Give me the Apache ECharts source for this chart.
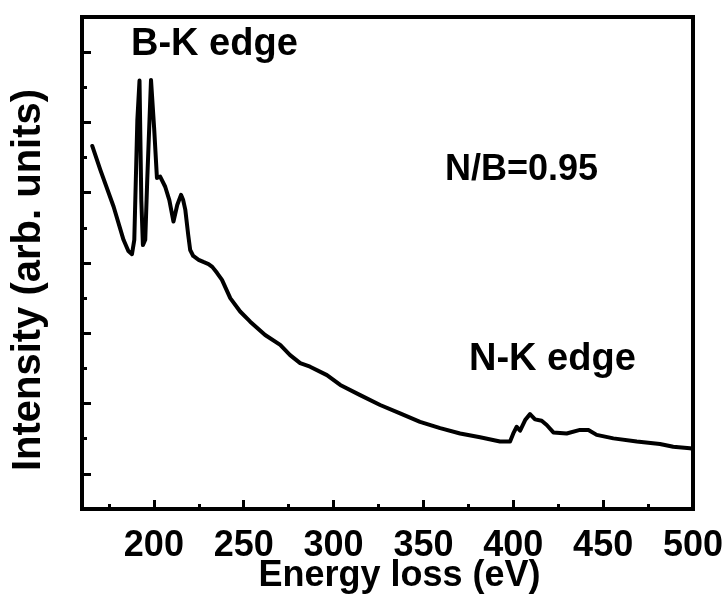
<!DOCTYPE html>
<html>
<head>
<meta charset="utf-8">
<script src="https://cdn.jsdelivr.net/npm/echarts@6/dist/echarts.min.js"></script>
<style>
html,body{margin:0;padding:0;background:#fff;}
#chart{width:727px;height:595px;}
</style>
</head>
<body>
<div id="chart"></div>
<script>
// Energy loss (eV)
var energy = [165.7,170.2,177.6,183.1,185.8,187.8,189.1,190.8,192.0,193.0,193.9,195.2,196.3,198.4,200.2,201.7,203.5,206.3,208.6,210.9,213.0,215.1,216.3,217.5,219.1,220.2,221.9,224.9,227.5,230.4,232.5,235.1,237.9,242.5,248.0,253.6,261.9,270.3,275.8,281.4,286.9,296.3,303.7,314.8,325.9,337.0,348.1,359.3,370.4,381.5,392.6,398.2,400.0,401.9,403.8,406.6,409.3,412.1,415.8,418.6,422.3,429.7,437.1,441.8,446.4,455.7,468.7,481.6,489.0,498.3,500.0];
// Intensity (arb. units)
var intensity = [10.33,9.65,8.60,7.66,7.34,7.25,7.66,11.07,12.19,8.79,7.51,7.66,9.36,12.21,10.79,9.42,9.46,9.17,8.79,8.18,8.65,8.94,8.79,8.51,7.80,7.37,7.20,7.09,7.03,6.97,6.89,6.72,6.52,6.00,5.62,5.33,4.95,4.67,4.38,4.15,4.05,3.81,3.53,3.24,2.96,2.72,2.48,2.30,2.15,2.04,1.92,1.92,2.15,2.34,2.23,2.53,2.70,2.55,2.51,2.39,2.18,2.15,2.25,2.25,2.11,2.01,1.92,1.85,1.77,1.73,1.71];
// tick values
var xMajor = [200,250,300,350,400,450,500];
var xMinor = [175,225,275,325,375,425,475];
var yMajor = [1,3,5,7,9,11,13];
var yMinor = [2,4,6,8,10,12];
var annotations = ['B-K edge','N/B=0.95','N-K edge'];
var yTitle = 'Intensity (arb. units)';

var FONT = '"Liberation Sans", Arial, Helvetica, sans-serif';
var data = energy.map(function(e,i){return [e,intensity[i]];});

var chart = echarts.init(document.getElementById('chart'), null, {renderer:'canvas'});
var tickStyle = {color:'#000', width:3};
chart.setOption({
  animation:false,
  backgroundColor:'#fff',
  grid:{left:82,right:34,top:17,bottom:86,containLabel:false,outerBoundsMode:'none',show:true,borderColor:'#000',borderWidth:4,backgroundColor:'transparent'},
  xAxis:[{
    type:'value',min:160,max:500,position:'bottom',
    axisLine:{show:true,lineStyle:{color:'#000',width:4}},
    axisTick:{show:true,inside:true,length:9,lineStyle:tickStyle,customValues:xMajor},
    axisLabel:{show:true,customValues:xMajor,color:'#000',fontSize:36,fontWeight:'bold',fontFamily:FONT,margin:19},
    splitLine:{show:false},
    name:'Energy loss (eV)',nameLocation:'middle',nameGap:49,nameMoveOverlap:false,
    nameTextStyle:{color:'#000',fontSize:36,fontWeight:'bold',fontFamily:FONT,padding:[0,0,0,24]}
  },{
    type:'value',min:160,max:500,position:'bottom',
    axisLine:{show:false},
    axisTick:{show:true,inside:true,length:5,lineStyle:tickStyle,customValues:xMinor},
    axisLabel:{show:false},
    splitLine:{show:false}
  }],
  yAxis:[{
    type:'value',min:0,max:14,position:'left',
    axisLine:{show:true,lineStyle:{color:'#000',width:4}},
    axisTick:{show:true,inside:true,length:9,lineStyle:tickStyle,customValues:yMajor},
    axisLabel:{show:false},
    splitLine:{show:false}
  },{
    type:'value',min:0,max:14,position:'left',
    axisLine:{show:false},
    axisTick:{show:true,inside:true,length:5,lineStyle:tickStyle,customValues:yMinor},
    axisLabel:{show:false},
    splitLine:{show:false}
  }],
  series:[{
    type:'line',xAxisIndex:0,yAxisIndex:0,data:data,
    showSymbol:false,symbol:'none',smooth:false,
    lineStyle:{color:'#000',width:4,join:'round',cap:'round'}
  }],
  graphic:[
    {type:'text',x:29,y:280,rotation:Math.PI/2,style:{text:yTitle,fill:'#000',font:'bold 40px '+FONT,align:'center',verticalAlign:'middle'}},
    {type:'text',left:131,top:26,style:{text:annotations[0],fill:'#000',font:'bold 38px '+FONT}},
    {type:'text',left:445,top:152,style:{text:annotations[1],fill:'#000',font:'bold 36px '+FONT}},
    {type:'text',left:469,top:341,style:{text:annotations[2],fill:'#000',font:'bold 38px '+FONT}}
  ]
});
</script>
</body>
</html>
